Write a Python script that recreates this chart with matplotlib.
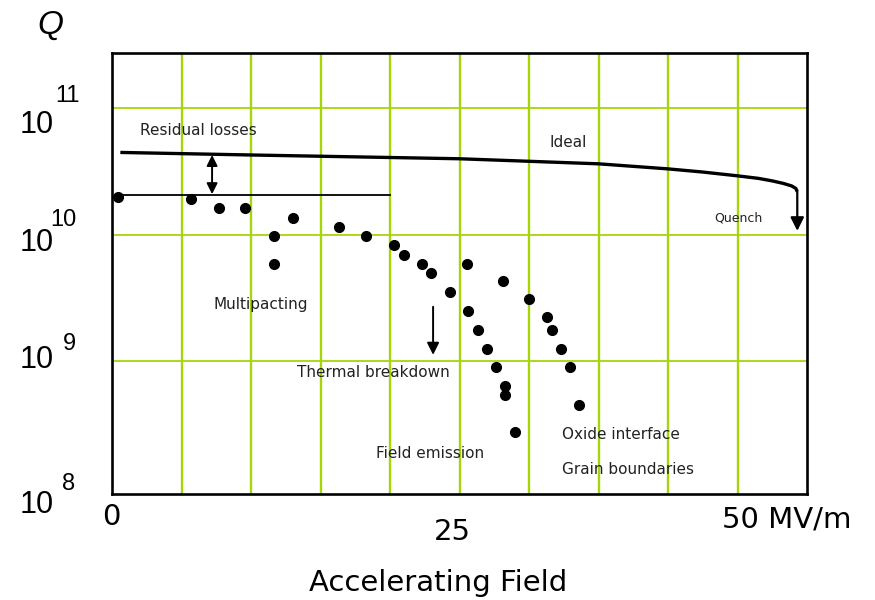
import matplotlib
matplotlib.use('Agg')
import matplotlib.pyplot as plt

# datos (campo en MV/m, Q en log10)
ideal_e   = [0.6, 9.9, 20.0, 25.0, 30.0, 35.0, 37.5, 40.0, 42.5, 45.0, 46.5, 47.5, 48.3, 48.9, 49.2, 49.3]
ideal_q   = [10.65, 10.63, 10.61, 10.60, 10.58, 10.56, 10.54, 10.52, 10.495, 10.465, 10.445, 10.425,
             10.405, 10.385, 10.365, 10.34]
quench_q  = 10.03

resid_e   = [0.6, 20.0]
resid_q   = 10.31

low_e     = [0.4, 5.7, 7.7, 9.6, 11.65, 11.65, 13.0, 16.3, 18.3]
low_q     = [10.30, 10.28, 10.21, 10.21, 9.99, 9.77, 10.13, 10.06, 9.99]
thermal_e = [20.3, 21.0, 22.3, 22.95, 24.3]
thermal_q = [9.92, 9.84, 9.77, 9.70, 9.55]
fe_e      = [25.55, 25.6, 26.3, 27.0, 27.6, 28.3, 28.3, 29.0]
fe_q      = [9.77, 9.40, 9.25, 9.10, 8.95, 8.80, 8.73, 8.44]
oxide_e   = [28.1, 30.0, 31.3, 31.65, 32.3, 32.95, 33.6]
oxide_q   = [9.63, 9.49, 9.35, 9.25, 9.10, 8.95, 8.65]

labels = [('Residual losses', 2.0, 10.82, 11), ('Ideal', 31.5, 10.73, 11),
          ('Quench', 43.3, 10.13, 9), ('Multipacting', 7.3, 9.45, 11),
          ('Thermal breakdown', 13.3, 8.91, 11), ('Field emission', 19.0, 8.27, 11),
          ('Oxide interface', 32.4, 8.42, 11), ('Grain boundaries', 32.4, 8.14, 11)]

y_exp = ['11', '10', '9', '8']
x_labels = ['0', '25', '50 MV/m']

GREEN = '#a8d40a'
W, H = 875, 600

fig = plt.figure(figsize=(8.75, 6), dpi=100)
ax = fig.add_axes([112/W, 1-494/H, 695/W, 441/H])
ax.set_yscale('log')
ax.set_xlim(0, 50)
ax.set_ylim(10**7.95, 10**11.436)

for x in range(5, 50, 5):
    ax.axvline(x, color=GREEN, lw=1.7, zorder=0)
for k in [9, 10, 11]:
    ax.axhline(10**k, color=GREEN, lw=1.3, zorder=0)

ax.set_xticks([]); ax.set_yticks([]); ax.minorticks_off()
for s in ax.spines.values():
    s.set_linewidth(1.9)

P = lambda v: [10**q for q in v]

ax.plot(ideal_e, P(ideal_q), color='black', lw=2.4, solid_capstyle='butt', solid_joinstyle='round')
ax.annotate('', xy=(ideal_e[-1], 10**quench_q), xytext=(ideal_e[-1], 10**ideal_q[-1]),
            arrowprops=dict(arrowstyle='-|>', color='black', lw=1.6, mutation_scale=20,
                            shrinkA=0, shrinkB=0))
ax.plot(resid_e, [10**resid_q]*2, color='black', lw=1.3)
ax.annotate('', xy=(7.2, 10**10.32), xytext=(7.2, 10**10.63),
            arrowprops=dict(arrowstyle='<|-|>', color='black', lw=1.4, mutation_scale=16,
                            shrinkA=0, shrinkB=0))
ax.annotate('', xy=(23.1, 10**9.05), xytext=(23.1, 10**9.43),
            arrowprops=dict(arrowstyle='-|>', color='black', lw=1.4, mutation_scale=18,
                            shrinkA=0, shrinkB=0))

for xs, qs in [(low_e, low_q), (thermal_e, thermal_q), (fe_e, fe_q), (oxide_e, oxide_q)]:
    ax.plot(xs, P(qs), 'o', color='black', ms=7, zorder=5, clip_on=False)

for txt, x, q, fs in labels:
    ax.text(x, 10**q, txt, fontsize=fs, color='#222222', ha='left', va='center')

# etiquetas de eje dibujadas como texto (posiciones en pixeles)
fx = lambda px: px / W
fy = lambda py: 1 - py / H
for e, yb, xe, ye in zip(y_exp, [125, 243, 360, 505], [55, 50, 63, 62], [96, 220, 344, 484]):
    fig.text(fx(20), fy(yb), '10', fontsize=22, family='Liberation Sans', ha='left', va='center')
    fig.text(fx(xe), fy(ye), e, fontsize=17, family='Liberation Sans', ha='left', va='center')

fig.text(fx(111), fy(517), x_labels[0], fontsize=21, ha='center', va='center')
fig.text(fx(452), fy(532), x_labels[1], fontsize=21, ha='center', va='center')
fig.text(fx(722), fy(520), x_labels[2], fontsize=21, ha='left', va='center')
fig.text(fx(438), fy(583), 'Accelerating Field', fontsize=21, ha='center', va='center')
fig.text(fx(50), fy(25), 'Q', fontsize=24, style='italic', family='Liberation Sans',
         ha='center', va='center')

fig.savefig('out.png', dpi=100)
